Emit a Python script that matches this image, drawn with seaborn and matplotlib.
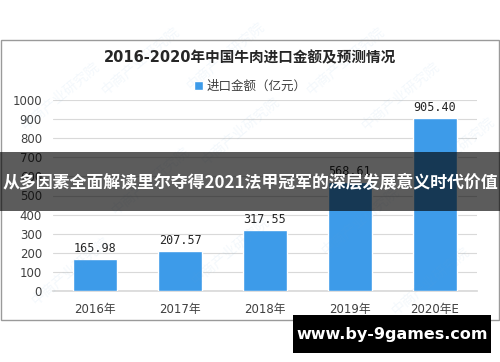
import matplotlib
matplotlib.use("Agg")
import matplotlib.pyplot as plt
import seaborn as sns
from matplotlib.patches import Rectangle

years = ["2016年", "2017年", "2018年", "2019年", "2020年E"]
values = [165.98, 207.57, 317.55, 568.61, 905.40]
value_labels = ["165.98", "207.57", "317.55", "568.61", "905.40"]
title = "2016-2020年中国牛肉进口金额及预测情况"
legend_label = "进口金额（亿元）"
banner = "从多因素全面解读里尔夺得2021法甲冠军的深层发展意义时代价值"
site = "www.by-9games.com"
yticks = [0, 100, 200, 300, 400, 500, 600, 700, 800, 900, 1000]

sns.set_theme(style="white")
plt.rcParams['font.family'] = ['DejaVu Sans', 'Noto Sans CJK SC']

W, H = 500, 362
fig = plt.figure(figsize=(5, 3.62), dpi=100)
fig.patch.set_facecolor("white")

# chart border
fig.patches.append(Rectangle((1 / W, 1 - 320 / H), 498 / W, 280 / H, transform=fig.transFigure,
                             fill=False, edgecolor="#9a9a9a", linewidth=1.0, zorder=1))

ax = fig.add_axes([53 / W, 1 - 291 / H, 424 / W, 191 / H])
bar_color = "#3d9be9"
sns.barplot(x=years, y=values, color=bar_color, saturation=1, width=0.52, ax=ax,
            label=legend_label, zorder=3)
if ax.get_legend() is not None:
    ax.get_legend().remove()
ax.set_ylim(0, 1000)
ax.set_xlim(-0.5, 4.5)
ax.set_yticks(yticks)
ax.set_yticklabels([str(v) for v in yticks])
ax.grid(axis="y", color="#d9d9d9", linewidth=0.8, zorder=0)
ax.set_axisbelow(True)
for s in ["top", "right", "left"]:
    ax.spines[s].set_visible(False)
ax.spines["bottom"].set_color("#d9d9d9")
ax.tick_params(axis="both", length=0, labelsize=8.5, colors="#404040")
ax.tick_params(axis="x", pad=9)
ax.tick_params(axis="y", pad=8)
ax.set_xlabel("")
ax.set_ylabel("")
ax.patch.set_alpha(0)

for i, (v, lab) in enumerate(zip(values, value_labels)):
    ax.annotate(lab, (i, v), xytext=(0, 3), textcoords="offset points", ha="center", va="bottom",
                fontsize=8.5, family="DejaVu Sans Mono", color="#262626", zorder=5)

fig.text(0.5, 1 - 58 / H, title, ha="center", va="center", fontsize=10.5, fontweight="bold",
         color="#262626", family=["DejaVu Sans", "Noto Sans CJK SC"])

h, l = ax.get_legend_handles_labels()
fig.legend(h, l, loc="center", bbox_to_anchor=(0.5, 1 - 86 / H), frameon=False, fontsize=9,
           handlelength=0.7, handleheight=0.7, handletextpad=0.3, labelcolor="#404040")

# faint watermarks
for (x, y) in [(60, 95), (140, 60), (225, 55), (345, 60), (400, 95), (150, 180), (230, 250),
               (70, 270), (360, 220), (430, 280), (240, 130), (455, 150)]:
    fig.text(x / W, 1 - y / H, "中商产业研究院", rotation=40, fontsize=10, color="#6aa8d8",
             alpha=0.08, ha="center", va="center", family=["Noto Sans CJK SC"], zorder=0)

# dark banner
fig.patches.append(Rectangle((0, 1 - 211 / H), 1, 59 / H, transform=fig.transFigure,
                             facecolor="black", alpha=0.64, edgecolor="none", zorder=10))
fig.text(0.5, 1 - 183 / H, banner, ha="center", va="center", fontsize=12.2, fontweight="bold",
         color="white", family=["Noto Sans CJK SC"], zorder=11)

# site box
fig.patches.append(Rectangle((293 / W, 1 - 353 / H), 198 / W, 38 / H, transform=fig.transFigure,
                             facecolor="black", edgecolor="none", zorder=10))
fig.text(392 / W, 1 - 335 / H, site, ha="center", va="center", fontsize=11.5, fontweight="bold",
         color="white", family="DejaVu Sans", zorder=11)

fig.savefig("out.png", dpi=100)
